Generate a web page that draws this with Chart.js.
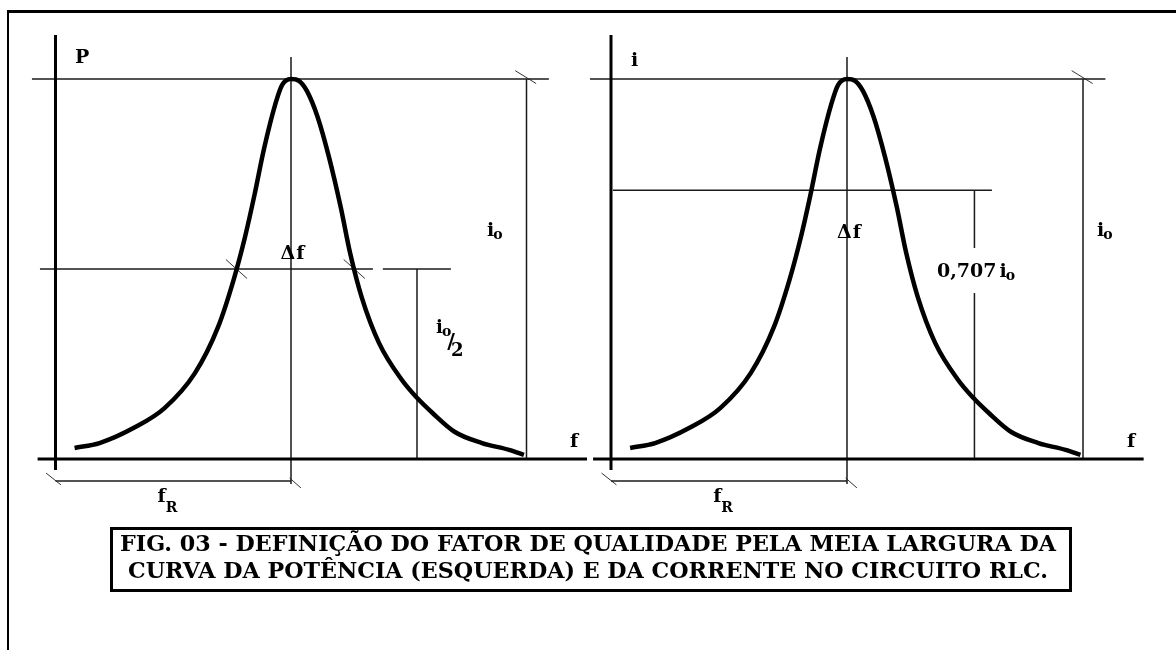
<!DOCTYPE html>
<html lang="pt">
<head>
<meta charset="utf-8">
<script src="https://cdn.jsdelivr.net/npm/chart.js@4.4.1/dist/chart.umd.min.js"></script>
<style>
  body { margin: 0; width: 1176px; height: 650px; overflow: hidden; position: relative; background: #fff; }
  #moldura { position: absolute; left: 7px; top: 10px; width: 1300px; height: 800px; border-left: 2px solid #000; border-top: 3px solid #000; }
  canvas { position: absolute; top: 0; }
  #esq { left: 0; }
  #dir { left: 590px; }
  #legenda { position: absolute; left: 110px; top: 527px; width: 962px; height: 65px; box-sizing: border-box; border: 3px solid #000; }
  .linha { position: absolute; white-space: nowrap; font: bold 23px/23px "DejaVu Serif", serif; color: #000; transform-origin: 0 0; }
</style>
</head>
<body>
<div id="moldura"></div>
<canvas id="esq" width="590" height="650"></canvas>
<canvas id="dir" width="586" height="650"></canvas>
<div id="legenda"></div>
<div class="linha" id="l1">FIG. 03 - DEFINIÇÃO DO FATOR DE QUALIDADE PELA MEIA LARGURA DA</div>
<div class="linha" id="l2">CURVA DA POTÊNCIA (ESQUERDA) E DA CORRENTE NO CIRCUITO RLC.</div>
<script>
// curva de ressonância: frequência (f_R = 10) e amplitude relativa (pico = i0 = 1)
const freq = [0.81, 1.87, 3.33, 4.63, 5.92, 6.90, 7.56, 8.05, 8.45, 8.85, 9.34, 9.62, 10.0, 10.34, 10.68, 11.13, 11.61, 12.11, 12.51, 13.0, 13.74, 14.71, 15.35, 16.01, 16.96, 18.11, 19.26, 19.89];
const amplitude = [0.029, 0.042, 0.082, 0.134, 0.226, 0.347, 0.471, 0.585, 0.695, 0.815, 0.935, 0.984, 1.0, 0.995, 0.968, 0.90, 0.795, 0.663, 0.542, 0.426, 0.305, 0.208, 0.161, 0.121, 0.071, 0.042, 0.024, 0.011];

// níveis e frequências de referência
const fR = 10;
const fFim = 20;
const nivelPico = 1;
const nivelMeia = 0.5;      // i0/2
const nivelEficaz = 0.707;  // 0,707 i0
const fMarcaMeia = 15.35;
const fMarcaEficaz = 15.4;

const curva = freq.map((f, i) => ({ x: f, y: amplitude[i] }));

// pontos onde a curva corta um nível
function cortes(nivel) {
  const r = [];
  for (let i = 1; i < freq.length; i++) {
    const a0 = amplitude[i - 1], a1 = amplitude[i];
    if ((a0 - nivel) * (a1 - nivel) <= 0 && a0 !== a1) {
      r.push(freq[i - 1] + (nivel - a0) / (a1 - a0) * (freq[i] - freq[i - 1]));
    }
  }
  return r;
}

function seg(x1, y1, x2, y2, largura, cor) {
  return {
    data: [{ x: x1, y: y1 }, { x: x2, y: y2 }],
    borderColor: cor || '#1a1a1a',
    borderWidth: largura || 1.5,
    pointRadius: 0,
    tension: 0
  };
}

// linhas comuns aos dois gráficos
function linhasBase() {
  return [
    seg(0, -0.029, 0, 1.116, 3, '#000'),
    seg(-0.76, 0, 22.57, 0, 3, '#000'),
    seg(-1.0, nivelPico, 20.95, nivelPico),
    seg(fR, 1.058, fR, -0.066),
    seg(fFim, nivelPico, fFim, 0),
    seg(0, -0.058, fR, -0.058),
    seg(-0.40, -0.037, 0.23, -0.068, 1, '#333'),
    seg(9.94, -0.05, 10.42, -0.076, 1, '#333'),
    seg(19.52, 1.022, 20.41, 0.988, 1, '#333')
  ];
}

const linhasPotencia = linhasBase().concat([
  seg(-0.66, nivelMeia, 13.48, nivelMeia),
  seg(13.9, nivelMeia, 16.79, nivelMeia),
  seg(fMarcaMeia, nivelMeia, fMarcaMeia, 0)
], cortes(nivelMeia).map(c => seg(c - 0.45, nivelMeia + 0.025, c + 0.45, nivelMeia - 0.025, 1, '#333')));

const linhasCorrente = linhasBase().concat([
  seg(0.08, nivelEficaz, 16.14, nivelEficaz),
  seg(fMarcaEficaz, nivelEficaz, fMarcaEficaz, 0.555),
  seg(fMarcaEficaz, 0.437, fMarcaEficaz, 0)
]);

const sub = (t, dy, dx) => ({ t, size: 14, dy: dy, dx: dx || 0 });

const rotulosPotencia = [
  { f: 0.83, a: 1.042, parts: [{ t: 'P' }] },
  { f: 21.85, a: 0.032, parts: [{ t: 'f' }] },
  { f: 9.55, a: nivelMeia + 0.027, parts: [{ t: 'Δ' }, { t: 'f', dx: 1 }] },
  { f: 18.32, a: 0.587, parts: [{ t: 'i' }, sub('o', 3, -1)] },
  { f: 16.16, a: 0.332, parts: [{ t: 'i', size: 18 }, sub('o', 3, -1), { t: '/', size: 21, dx: -4, dy: 15 }, { t: '2', size: 18, dx: -4, dy: 23 }] },
  { f: 4.33, a: -0.113, parts: [{ t: 'f' }, sub('R', 10, 0)] }
];

const rotulosCorrente = [
  { f: 0.85, a: 1.034, parts: [{ t: 'i' }] },
  { f: 21.86, a: 0.032, parts: [{ t: 'f' }] },
  { f: 9.58, a: 0.582, parts: [{ t: 'Δ' }, { t: 'f', dx: 1 }] },
  { f: 13.81, a: 0.479, parts: [{ t: '0,707' }, { t: 'i', dx: 3 }, sub('o', 3, -1)] },
  { f: 20.59, a: 0.587, parts: [{ t: 'i' }, sub('o', 3, -1)] },
  { f: 4.33, a: -0.113, parts: [{ t: 'f' }, sub('R', 10, 0)] }
];

const rotulos = {
  id: 'rotulos',
  afterDatasetsDraw(chart, args, opts) {
    const { ctx, scales: { x, y } } = chart;
    ctx.save();
    ctx.fillStyle = '#000';
    ctx.textBaseline = 'alphabetic';
    opts.items.forEach(item => {
      let px = x.getPixelForValue(item.f);
      const py = y.getPixelForValue(item.a);
      item.parts.forEach(p => {
        ctx.font = 'bold ' + (p.size || 19) + 'px "DejaVu Serif"';
        px += p.dx || 0;
        ctx.fillText(p.t, px, py + (p.dy || 0));
        px += ctx.measureText(p.t).width;
      });
    });
    ctx.restore();
  }
};

// eixos invisíveis: a área do gráfico ocupa o canvas inteiro
function criar(id, origemX, escalaX, linhas, itens) {
  const canvas = document.getElementById(id);
  const escalaY = 380, origemY = 459;
  return new Chart(canvas.getContext('2d'), {
    type: 'line',
    data: {
      datasets: [{
        data: curva,
        borderColor: '#000',
        borderWidth: 4.5,
        borderJoinStyle: 'round',
        pointRadius: 0,
        cubicInterpolationMode: 'monotone'
      }].concat(linhas)
    },
    options: {
      responsive: false,
      animation: false,
      events: [],
      layout: { padding: 0 },
      plugins: { legend: { display: false }, tooltip: { enabled: false }, rotulos: { items: itens } },
      scales: {
        x: { type: 'linear', display: false, min: -origemX / escalaX, max: (canvas.width - origemX) / escalaX },
        y: { type: 'linear', display: false, min: -(canvas.height - origemY) / escalaY, max: origemY / escalaY }
      }
    },
    plugins: [rotulos]
  });
}

function desenhar() {
  criar('esq', 55.5, 23.55, linhasPotencia, rotulosPotencia);
  criar('dir', 21, 23.6, linhasCorrente, rotulosCorrente);

  // legenda: duas linhas centradas, ajustadas à largura da caixa
  [['l1', 936, 550], ['l2', 920, 577]].forEach(([id, largura, base]) => {
    const el = document.getElementById(id);
    const w = el.getBoundingClientRect().width;
    el.style.left = (588 - largura / 2) + 'px';
    el.style.top = (base - 19.4) + 'px';
    el.style.transform = 'scaleX(' + (largura / w) + ')';
  });
}

if (document.fonts && document.fonts.load) {
  document.fonts.load('bold 19px "DejaVu Serif"').then(desenhar, desenhar);
} else {
  desenhar();
}
</script>
</body>
</html>
